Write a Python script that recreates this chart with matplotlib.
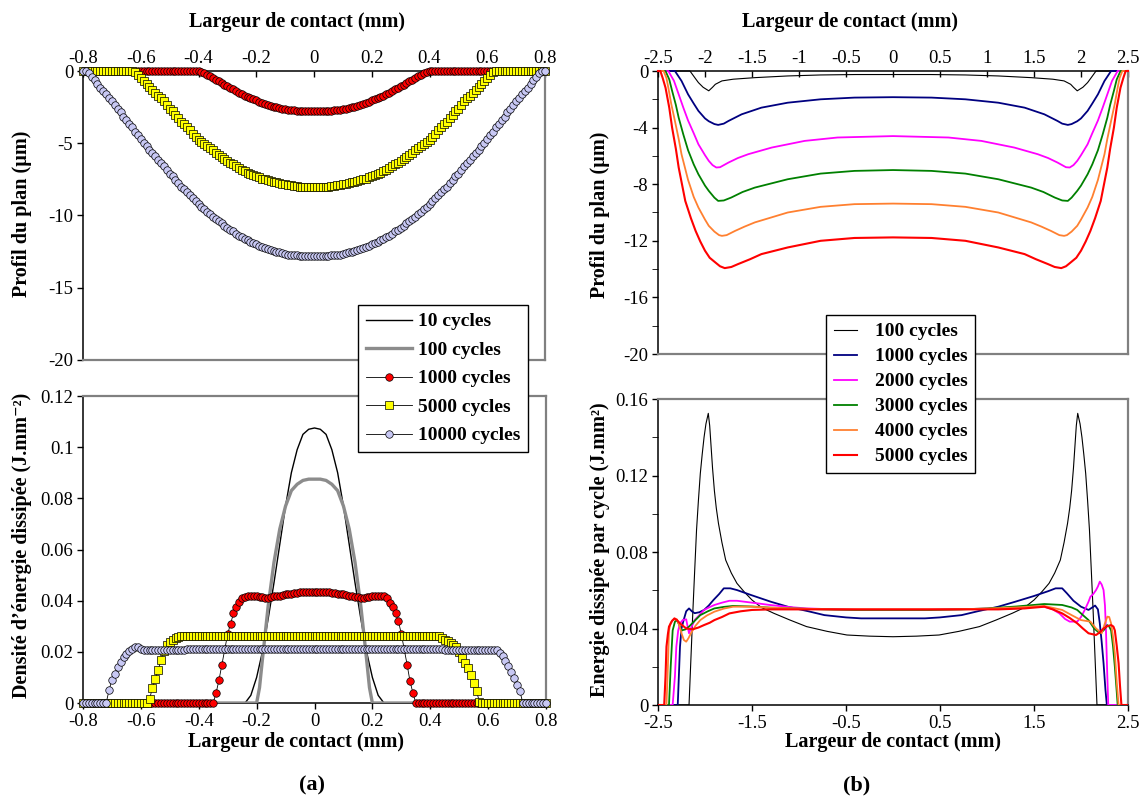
import numpy as np
import matplotlib
matplotlib.use("Agg")
import matplotlib.pyplot as plt

plt.rcParams['font.family'] = ['Liberation Serif', 'DejaVu Serif']
plt.rcParams['axes.unicode_minus'] = False
plt.rcParams['font.size'] = 13

# ---------------- (a) data ----------------
# contact width grid for the marker series, 0.01 mm step
x_a = np.round(np.arange(-80, 81) * 0.01, 2)

# wear profile (um)
prof_a_1000 = ([0.0] * 40 +
               [0, -0.05, -0.15, -0.25, -0.37, -0.48, -0.6, -0.72, -0.84, -0.95,
                -1.06, -1.17, -1.28, -1.39, -1.5, -1.6, -1.7, -1.78, -1.87, -1.96,
                -2.04, -2.12, -2.2, -2.27, -2.34, -2.4, -2.46, -2.51, -2.56, -2.6,
                -2.64, -2.67, -2.7, -2.72, -2.74, -2.75, -2.75, -2.75, -2.75, -2.75,
                -2.75,
                -2.75, -2.75, -2.75, -2.75, -2.75, -2.74, -2.72, -2.7, -2.67, -2.64,
                -2.6, -2.56, -2.51, -2.46, -2.4, -2.34, -2.27, -2.2, -2.12, -2.04,
                -1.96, -1.87, -1.78, -1.7, -1.6, -1.5, -1.39, -1.28, -1.17, -1.06,
                -0.95, -0.84, -0.72, -0.6, -0.48, -0.37, -0.25, -0.15, -0.05, 0] +
               [0.0] * 40)

prof_a_5000 = ([0.0] * 10 +
               [0, 0, 0, 0, 0, 0, 0, 0, -0.1, -0.3,
                -0.5, -0.7, -0.9, -1.1, -1.3, -1.5, -1.7, -1.9, -2.1, -2.35,
                -2.6, -2.8, -3.05, -3.25, -3.5, -3.7, -3.9, -4.1, -4.35, -4.55,
                -4.75, -4.9, -5.05, -5.2, -5.35, -5.5, -5.65, -5.8, -5.95, -6.1,
                -6.2, -6.35, -6.45, -6.6, -6.7, -6.85, -6.95, -7.05, -7.15, -7.2,
                -7.3, -7.35, -7.45, -7.5, -7.55, -7.6, -7.65, -7.7, -7.75, -7.8,
                -7.85, -7.9, -7.92, -7.95, -7.97, -8.0, -8.0, -8.0, -8.0, -8.0,
                -8.0,
                -8.0, -8.0, -8.0, -8.0, -8.0, -7.97, -7.95, -7.92, -7.9, -7.85,
                -7.8, -7.75, -7.7, -7.65, -7.6, -7.55, -7.5, -7.45, -7.35, -7.3,
                -7.2, -7.15, -7.05, -6.95, -6.85, -6.7, -6.6, -6.45, -6.35, -6.2,
                -6.1, -5.95, -5.8, -5.65, -5.5, -5.35, -5.2, -5.05, -4.9, -4.75,
                -4.55, -4.35, -4.1, -3.9, -3.7, -3.5, -3.25, -3.05, -2.8, -2.6,
                -2.35, -2.1, -1.9, -1.7, -1.5, -1.3, -1.1, -0.9, -0.7, -0.5,
                -0.3, -0.1, 0, 0, 0, 0, 0, 0, 0, 0] +
               [0.0] * 10)

prof_a_10000 = [0, 0, -0.15, -0.4, -0.65, -0.9, -1.15, -1.4, -1.6, -1.85,
                -2.1, -2.35, -2.6, -2.85, -3.15, -3.4, -3.65, -3.9, -4.2, -4.45,
                -4.7, -4.95, -5.2, -5.45, -5.7, -5.9, -6.15, -6.4, -6.6, -6.85,
                -7.1, -7.3, -7.55, -7.75, -8.0, -8.2, -8.4, -8.6, -8.8, -9.0,
                -9.2, -9.4, -9.55, -9.75, -9.9, -10.1, -10.25, -10.4, -10.55, -10.7,
                -10.85, -11.0, -11.1, -11.25, -11.4, -11.5, -11.6, -11.7, -11.8, -11.9,
                -12.0, -12.1, -12.15, -12.25, -12.3, -12.4, -12.45, -12.5, -12.55, -12.6,
                -12.65, -12.7, -12.72, -12.74, -12.76, -12.78, -12.79, -12.8, -12.8, -12.8,
                -12.8,
                -12.8, -12.8, -12.8, -12.79, -12.78, -12.76, -12.74, -12.72, -12.7, -12.65,
                -12.6, -12.55, -12.5, -12.45, -12.4, -12.3, -12.25, -12.15, -12.1, -12.0,
                -11.9, -11.8, -11.7, -11.6, -11.5, -11.4, -11.25, -11.1, -11.0, -10.85,
                -10.7, -10.55, -10.4, -10.25, -10.1, -9.9, -9.75, -9.55, -9.4, -9.2,
                -9.0, -8.8, -8.6, -8.4, -8.2, -8.0, -7.75, -7.55, -7.3, -7.1,
                -6.85, -6.6, -6.4, -6.15, -5.9, -5.7, -5.45, -5.2, -4.95, -4.7,
                -4.45, -4.2, -3.9, -3.65, -3.4, -3.15, -2.85, -2.6, -2.35, -2.1,
                -1.85, -1.6, -1.4, -1.15, -0.9, -0.65, -0.4, -0.15, 0, 0]

# dissipated energy density (J.mm-2)
x_a_10 = [-0.8, -0.24, -0.22, -0.2, -0.18, -0.16, -0.14, -0.12, -0.1, -0.08, -0.06, -0.04, -0.02,
          0, 0.02, 0.04, 0.06, 0.08, 0.1, 0.12, 0.14, 0.16, 0.18, 0.2, 0.22, 0.24, 0.8]
dens_a_10 = [0, 0, 0.003, 0.01, 0.02, 0.033, 0.047, 0.062, 0.077, 0.09, 0.099, 0.105, 0.107,
             0.1075, 0.107, 0.105, 0.099, 0.09, 0.077, 0.062, 0.047, 0.033, 0.02, 0.01, 0.003, 0, 0]

x_a_100 = [-0.8, -0.2, -0.19, -0.18, -0.16, -0.14, -0.12, -0.1, -0.08, -0.06, -0.04, -0.02,
           0, 0.02, 0.04, 0.06, 0.08, 0.1, 0.12, 0.14, 0.16, 0.18, 0.19, 0.2, 0.8]
dens_a_100 = [0, 0, 0.006, 0.017, 0.038, 0.055, 0.068, 0.077, 0.083, 0.0855, 0.087, 0.0875,
              0.0875, 0.0875, 0.087, 0.0855, 0.083, 0.077, 0.068, 0.055, 0.038, 0.017, 0.006, 0, 0]

dens_a_1000 = ([0.0] * 46 +
               [0.004, 0.009, 0.015, 0.021,
                0.027, 0.031, 0.035, 0.0375, 0.0395, 0.041, 0.0416, 0.042, 0.042, 0.042,
                0.0418, 0.0416, 0.0413, 0.041, 0.0412, 0.0415, 0.0418, 0.042, 0.042, 0.0422,
                0.0425, 0.0427, 0.0428, 0.043, 0.0431, 0.0432, 0.0432, 0.0432, 0.0432, 0.0432,
                0.0432,
                0.0432, 0.0432, 0.0432, 0.0432, 0.0432, 0.0431, 0.043, 0.0428, 0.0427, 0.0425,
                0.0422, 0.042, 0.0418, 0.0416, 0.0413, 0.041, 0.041, 0.0413, 0.0416, 0.0418,
                0.042, 0.042, 0.042, 0.0418, 0.041, 0.039, 0.0375, 0.035, 0.032, 0.027,
                0.021, 0.015, 0.0085, 0.004] +
               [0.0] * 46)

dens_a_5000 = ([0.0] * 23 +
               [0.0015, 0.006, 0.0095, 0.013, 0.017, 0.0205, 0.0225,
                0.0238, 0.0247, 0.0254, 0.0258, 0.0261, 0.0263, 0.0263, 0.0263, 0.0263, 0.0263] +
               [0.0263] * 40 + [0.0263] + [0.0263] * 42 +
               [0.026, 0.0255,
                0.0248, 0.0242, 0.0235, 0.0228, 0.022, 0.02,
                0.0175, 0.0158, 0.0138, 0.011, 0.008, 0.0045, 0.0005] +
               [0.0] * 23)

dens_a_10000 = ([0.0] * 9 +
                [0.005, 0.009, 0.0115, 0.014, 0.0162, 0.018, 0.0193, 0.0204, 0.0212, 0.0218, 0.0218,
                 0.0212, 0.0209] + [0.0208] * 14 + [0.0213] * 44 + [0.0213] +
                [0.0213] * 44 + [0.0208] * 18 +
                [0.0206, 0.0196, 0.0182, 0.0163, 0.0143, 0.0122, 0.0098, 0.0072, 0.0045] +
                [0.0] * 9)

# ---------------- (b) data ----------------
x_b_p100 = [-2.5, -2.16, -2.1, -2.07, -2.02, -1.96, -1.92, -1.89, -1.82, -1.7, -1.47, -1.12, -0.77, -0.4,
            0, 0.4, 0.77, 1.12, 1.47, 1.7, 1.82, 1.89, 1.92, 1.96, 2.02, 2.07, 2.1, 2.16, 2.5]
prof_b_100 = [0, 0, -0.55, -0.82, -1.15, -1.4, -1.15, -0.94, -0.7, -0.58, -0.47, -0.35, -0.28, -0.25,
              -0.25, -0.25, -0.28, -0.35, -0.47, -0.58, -0.7, -0.94, -1.15, -1.4, -1.15, -0.82, -0.55, 0, 0]

x_b_p1000 = [-2.5, -2.32, -2.25, -2.18, -2.12, -2.07, -2.0, -1.96, -1.9, -1.86, -1.8, -1.75, -1.61, -1.4,
             -1.12, -0.77, -0.41, 0, 0.41, 0.77, 1.12, 1.4, 1.61, 1.75, 1.8, 1.86, 1.9, 1.96, 2.0, 2.07,
             2.12, 2.18, 2.25, 2.32, 2.5]
prof_b_1000 = [0, 0, -0.7, -1.65, -2.3, -2.82, -3.35, -3.55, -3.75, -3.81, -3.72, -3.53, -3.06, -2.59,
               -2.24, -2.0, -1.88, -1.85, -1.88, -2.0, -2.24, -2.59, -3.06, -3.53, -3.72, -3.81, -3.75,
               -3.55, -3.35, -2.82, -2.3, -1.65, -0.7, 0, 0]

x_b_p2000 = [-2.5, -2.39, -2.33, -2.28, -2.23, -2.18, -2.12, -2.07, -2.0, -1.96, -1.92, -1.88, -1.84,
             -1.75, -1.65, -1.54, -1.29, -0.94, -0.59, 0, 0.59, 0.94, 1.29, 1.54, 1.65, 1.75, 1.84,
             1.88, 1.92, 1.96, 2.0, 2.07, 2.12, 2.18, 2.23, 2.28, 2.33, 2.39, 2.5]
prof_b_2000 = [0, 0, -0.7, -1.65, -2.6, -3.5, -4.4, -5.18, -5.95, -6.35, -6.65, -6.82, -6.8, -6.47,
               -6.15, -5.88, -5.41, -4.94, -4.7, -4.6, -4.7, -4.94, -5.41, -5.88, -6.15, -6.47, -6.8,
               -6.82, -6.65, -6.35, -5.95, -5.18, -4.4, -3.5, -2.6, -1.65, -0.7, 0, 0]

x_b_p3000 = [-2.5, -2.42, -2.38, -2.35, -2.31, -2.28, -2.23, -2.18, -2.12, -2.07, -2.0, -1.96, -1.9,
             -1.86, -1.8, -1.72, -1.6, -1.47, -1.12, -0.77, -0.41, 0, 0.41, 0.77, 1.12, 1.47, 1.6,
             1.72, 1.8, 1.86, 1.9, 1.96, 2.0, 2.07, 2.12, 2.18, 2.23, 2.28, 2.31, 2.35, 2.38, 2.42, 2.5]
prof_b_3000 = [0, 0, -0.6, -1.4, -2.4, -3.3, -4.5, -5.6, -6.6, -7.3, -8.1, -8.47, -8.95, -9.18, -9.15,
               -8.94, -8.55, -8.24, -7.65, -7.25, -7.06, -7.0, -7.06, -7.25, -7.65, -8.24, -8.55, -8.94,
               -9.15, -9.18, -8.95, -8.47, -8.1, -7.3, -6.6, -5.6, -4.5, -3.3, -2.4, -1.4, -0.6, 0, 0]

x_b_p4000 = [-2.5, -2.44, -2.41, -2.39, -2.36, -2.32, -2.28, -2.25, -2.18, -2.12, -2.07, -2.0, -1.96,
             -1.9, -1.85, -1.82, -1.77, -1.68, -1.58, -1.47, -1.12, -0.77, -0.41, 0,
             0.41, 0.77, 1.12, 1.47, 1.58, 1.68, 1.77, 1.82, 1.85, 1.9, 1.96, 2.0, 2.07, 2.12, 2.18,
             2.25, 2.28, 2.32, 2.36, 2.39, 2.41, 2.44, 2.5]
prof_b_4000 = [0, 0, -0.5, -1.18, -2.3, -3.53, -4.8, -5.88, -7.7, -8.9, -9.65, -10.5, -10.94, -11.35,
               -11.6, -11.65, -11.6, -11.3, -11.0, -10.7, -10.0, -9.6, -9.41, -9.37,
               -9.41, -9.6, -10.0, -10.7, -11.0, -11.3, -11.6, -11.65, -11.6, -11.35, -10.94, -10.5,
               -9.65, -8.9, -7.7, -5.88, -4.8, -3.53, -2.3, -1.18, -0.5, 0, 0]

x_b_p5000 = [-2.5, -2.475, -2.45, -2.42, -2.38, -2.35, -2.31, -2.28, -2.21, -2.15, -2.1, -2.05, -2.0,
             -1.95, -1.89, -1.84, -1.79, -1.72, -1.65, -1.52, -1.4, -1.12, -0.77, -0.41, 0,
             0.41, 0.77, 1.12, 1.4, 1.52, 1.65, 1.72, 1.79, 1.84, 1.89, 1.95, 2.0, 2.05, 2.1, 2.15,
             2.21, 2.28, 2.31, 2.35, 2.38, 2.42, 2.45, 2.475, 2.5]
prof_b_5000 = [0, 0, -0.5, -1.18, -2.6, -4.0, -5.5, -6.82, -9.18, -10.4, -11.3, -12.05, -12.7, -13.2,
               -13.53, -13.8, -13.93, -13.85, -13.65, -13.3, -12.94, -12.47, -12.0, -11.8, -11.76,
               -11.8, -12.0, -12.47, -12.94, -13.3, -13.65, -13.85, -13.93, -13.8, -13.53, -13.2,
               -12.7, -12.05, -11.3, -10.4, -9.18, -6.82, -5.5, -4.0, -2.6, -1.18, -0.5, 0, 0]

# dissipated energy per cycle (J.mm2)
x_b_e100 = [-2.5, -2.17, -2.15, -2.13, -2.11, -2.09, -2.07, -2.05, -2.03, -2.01, -1.99, -1.965, -1.95,
            -1.935, -1.92, -1.9, -1.88, -1.857, -1.82, -1.78, -1.72, -1.66, -1.58, -1.5, -1.4, -1.27,
            -1.1, -0.92, -0.7, -0.49, -0.25, 0,
            0.25, 0.49, 0.7, 0.92, 1.1, 1.27, 1.4, 1.5, 1.58, 1.66, 1.72, 1.78, 1.82, 1.857, 1.88,
            1.9, 1.92, 1.935, 1.95, 1.965, 1.99, 2.01, 2.03, 2.05, 2.07, 2.09, 2.11, 2.13, 2.15,
            2.17, 2.5]
en_b_100 = [0, 0, 0.024, 0.048, 0.07, 0.0915, 0.107, 0.121, 0.131, 0.14, 0.147, 0.1525, 0.146, 0.135,
            0.124, 0.112, 0.103, 0.095, 0.085, 0.0758, 0.069, 0.0636, 0.059, 0.0549, 0.051, 0.048,
            0.0445, 0.041, 0.0385, 0.0366, 0.036, 0.0357,
            0.036, 0.0366, 0.0385, 0.041, 0.0445, 0.048, 0.051, 0.0549, 0.059, 0.0636, 0.069, 0.0758,
            0.085, 0.095, 0.103, 0.112, 0.124, 0.135, 0.146, 0.1525, 0.147, 0.14, 0.131, 0.121,
            0.107, 0.0915, 0.07, 0.048, 0.024, 0, 0]

x_b_e1000 = [-2.5, -2.29, -2.266, -2.25, -2.227, -2.2, -2.17, -2.14, -2.11, -2.06, -2.01, -1.96, -1.91,
             -1.85, -1.8, -1.73, -1.66, -1.51, -1.3, -1.12, -0.9, -0.73, -0.5, -0.34, 0,
             0.34, 0.5, 0.73, 0.9, 1.12, 1.3, 1.5, 1.65, 1.73, 1.8, 1.85, 1.92, 2.0, 2.08, 2.12, 2.15,
             2.18, 2.2, 2.22, 2.24, 2.26, 2.275, 2.5]
en_b_1000 = [0, 0, 0.0305, 0.04, 0.0444, 0.049, 0.0505, 0.049, 0.048, 0.0485, 0.0497, 0.052, 0.0549,
             0.058, 0.061, 0.061, 0.0601, 0.0575, 0.054, 0.0514, 0.049, 0.047, 0.0458, 0.0453, 0.0453,
             0.0453, 0.0458, 0.047, 0.049, 0.0514, 0.054, 0.057, 0.0595, 0.061, 0.061, 0.0584, 0.0545,
             0.0514, 0.0497, 0.051, 0.052, 0.05, 0.0427, 0.033, 0.0218, 0.008, 0, 0]

x_b_e2000 = [-2.5, -2.344, -2.32, -2.305, -2.285, -2.266, -2.235, -2.2, -2.185, -2.17, -2.15, -2.11,
             -2.06, -2.01, -1.95, -1.9, -1.82, -1.74, -1.66, -1.58, -1.45, -1.31, -1.1, -0.92, -0.6,
             -0.34, 0,
             0.34, 0.6, 0.92, 1.3, 1.5, 1.61, 1.7, 1.77, 1.83, 1.88, 1.96, 2.0, 2.04, 2.08, 2.1, 2.13,
             2.16, 2.18, 2.2, 2.22, 2.24, 2.255, 2.265, 2.28, 2.29, 2.5]
en_b_2000 = [0, 0, 0.015, 0.0305, 0.039, 0.0427, 0.0445, 0.0448, 0.041, 0.0375, 0.04, 0.0444, 0.047,
             0.0497, 0.0512, 0.0523, 0.0535, 0.0545, 0.0545, 0.054, 0.0532, 0.0523, 0.0512, 0.0505,
             0.05, 0.0497, 0.0497,
             0.0497, 0.05, 0.0503, 0.051, 0.0514, 0.0514, 0.05, 0.0479, 0.045, 0.0436, 0.0436, 0.046,
             0.0497, 0.054, 0.0566, 0.058, 0.0601, 0.062, 0.0645, 0.063, 0.0601, 0.052, 0.04, 0.015,
             0, 0]

x_b_e3000 = [-2.5, -2.383, -2.365, -2.344, -2.32, -2.3, -2.275, -2.25, -2.21, -2.17, -2.11, -2.05,
             -1.97, -1.9, -1.8, -1.7, -1.5, -1.31, -1.0, -0.73, -0.4, 0,
             0.4, 0.73, 1.0, 1.31, 1.61, 1.8, 1.9, 1.96, 2.02, 2.08, 2.14, 2.2, 2.24, 2.28, 2.3, 2.32,
             2.34, 2.36, 2.38, 2.39, 2.5]
en_b_3000 = [0, 0, 0.02, 0.039, 0.0435, 0.0444, 0.042, 0.039, 0.0395, 0.041, 0.044, 0.047, 0.049,
             0.0505, 0.0513, 0.0518, 0.0515, 0.0509, 0.0504, 0.05, 0.0497, 0.0497,
             0.0497, 0.05, 0.0505, 0.0515, 0.0528, 0.0523, 0.051, 0.0497, 0.047, 0.0444, 0.04, 0.0375,
             0.039, 0.0418, 0.041, 0.039, 0.031, 0.02, 0.007, 0, 0]

x_b_e4000 = [-2.5, -2.41, -2.395, -2.383, -2.365, -2.344, -2.32, -2.3, -2.275, -2.25, -2.225, -2.2,
             -2.175, -2.15, -2.1, -2.05, -1.98, -1.9, -1.8, -1.7, -1.5, -1.31, -1.0, -0.6, 0,
             0.6, 1.0, 1.31, 1.61, 1.8, 1.9, 2.0, 2.1, 2.16, 2.22, 2.25, 2.28, 2.3, 2.32, 2.34, 2.36,
             2.38, 2.4, 2.5]
en_b_4000 = [0, 0, 0.02, 0.039, 0.043, 0.0444, 0.0448, 0.0448, 0.042, 0.0375, 0.034, 0.0331, 0.035,
             0.0375, 0.0415, 0.0444, 0.0468, 0.0488, 0.0504, 0.0514, 0.0514, 0.0509, 0.0504, 0.05, 0.05,
             0.05, 0.0504, 0.051, 0.0518, 0.0497, 0.047, 0.0444, 0.0436, 0.04, 0.0375, 0.042, 0.0462,
             0.046, 0.0427, 0.036, 0.027, 0.012, 0, 0]

x_b_e5000 = [-2.5, -2.434, -2.42, -2.41, -2.395, -2.383, -2.35, -2.325, -2.3, -2.266, -2.2, -2.13,
             -2.07, -2.01, -1.95, -1.9, -1.82, -1.74, -1.62, -1.5, -1.3, -1.12, -0.6, 0,
             0.6, 1.12, 1.4, 1.61, 1.7, 1.8, 1.88, 1.96, 2.02, 2.08, 2.16, 2.2, 2.24, 2.28, 2.32, 2.345,
             2.36, 2.38, 2.4, 2.415, 2.43, 2.5]
en_b_5000 = [0, 0, 0.015, 0.0305, 0.037, 0.041, 0.044, 0.0453, 0.0445, 0.0427, 0.04, 0.0396, 0.0405,
             0.0418, 0.043, 0.0444, 0.046, 0.0479, 0.049, 0.0497, 0.05, 0.05, 0.05, 0.05,
             0.05, 0.05, 0.0505, 0.0514, 0.05, 0.0479, 0.0455, 0.0427, 0.04, 0.0375, 0.0366, 0.038, 0.04,
             0.0412, 0.0418, 0.041, 0.039, 0.031, 0.0218, 0.01, 0, 0]

# tick labels
xt_a = [-0.8, -0.6, -0.4, -0.2, 0, 0.2, 0.4, 0.6, 0.8]
xt_a_lbl = ['-0.8', '-0.6', '-0.4', '-0.2', '0', '0.2', '0.4', '0.6', '0.8']
yt_a_prof = [0, -5, -10, -15, -20]
yt_a_dens = [0, 0.02, 0.04, 0.06, 0.08, 0.1, 0.12]
yt_a_dens_lbl = ['0', '0.02', '0.04', '0.06', '0.08', '0.1', '0.12']
xt_b_top = [-2.5, -2, -1.5, -1, -0.5, 0, 0.5, 1, 1.5, 2, 2.5]
xt_b_top_lbl = ['-2.5', '-2', '-1.5', '-1', '-0.5', '0', '0.5', '1', '1.5', '2', '2.5']
xt_b_bot = [-2.5, -1.5, -0.5, 0.5, 1.5, 2.5]
xt_b_bot_lbl = ['-2.5', '-1.5', '-0.5', '0.5', '1.5', '2.5']
yt_b_prof = [0, -4, -8, -12, -16, -20]
yt_b_en = [0, 0.04, 0.08, 0.12, 0.16]
yt_b_en_lbl = ['0', '0.04', '0.08', '0.12', '0.16']

W, H = 1144, 805
fig = plt.figure(figsize=(W / 100, H / 100), dpi=100)


def box(l, t, r, b):
    return [l / W, 1 - b / H, (r - l) / W, (b - t) / H]


def spines(ax, black, gray):
    for s in black:
        ax.spines[s].set_color('black')
        ax.spines[s].set_linewidth(1.1)
    for s in gray:
        ax.spines[s].set_color('#808080')
        ax.spines[s].set_linewidth(1.6)


# ---- (a) top: wear profile
ax1 = fig.add_axes(box(83, 71, 545, 360))
ax1.set_xlim(-0.8, 0.8)
ax1.set_ylim(-20, 0)
spines(ax1, ['top', 'left'], ['right', 'bottom'])
ax1.xaxis.tick_top()
ax1.set_xticks(xt_a)
ax1.set_xticklabels(xt_a_lbl)
ax1.set_yticks(yt_a_prof)
ax1.set_yticklabels([str(v) for v in yt_a_prof])
ax1.tick_params(axis='x', direction='in', length=4, pad=3)
ax1.tick_params(axis='y', direction='out', length=4, pad=3)

mk = dict(color='black', lw=0.6, mec='black', mew=0.5, ms=5.4, clip_on=False, zorder=3)
ax1.plot(x_a, prof_a_1000, marker='o', mfc='#FF0000', **mk)
ax1.plot(x_a, prof_a_5000, marker='s', mfc='#FFFF00', **mk)
ax1.plot(x_a, prof_a_10000, marker='o', mfc='#C8C8F4', **mk)

# ---- (a) bottom: energy density
ax2 = fig.add_axes(box(83, 396, 546, 703))
ax2.set_xlim(-0.8, 0.8)
ax2.set_ylim(0, 0.12)
spines(ax2, ['bottom', 'left'], ['top', 'right'])
ax2.set_xticks(xt_a)
ax2.set_xticklabels(xt_a_lbl)
ax2.set_yticks(yt_a_dens)
ax2.set_yticklabels(yt_a_dens_lbl)
ax2.tick_params(direction='out', length=4, pad=3)

l10, = ax2.plot(x_a_10, dens_a_10, color='black', lw=1.0, zorder=3)
l100, = ax2.plot(x_a_100, dens_a_100, color='#8C8C8C', lw=2.4, zorder=3)
m1000, = ax2.plot(x_a, dens_a_1000, marker='o', mfc='#FF0000', **mk)
m5000, = ax2.plot(x_a, dens_a_5000, marker='s', mfc='#FFFF00', **mk)
m10000, = ax2.plot(x_a, dens_a_10000, marker='o', mfc='#C8C8F4', **mk)

# ---- (b) top: wear profile
ax3 = fig.add_axes(box(658, 71, 1128, 354))
ax3.set_xlim(-2.5, 2.5)
ax3.set_ylim(-20, 0)
spines(ax3, ['top', 'left'], ['right', 'bottom'])
ax3.xaxis.tick_top()
ax3.set_xticks(xt_b_top)
ax3.set_xticklabels(xt_b_top_lbl)
ax3.set_yticks(yt_b_prof)
ax3.set_yticklabels([str(v) for v in yt_b_prof])
ax3.set_yticks(np.arange(-20, 1, 2), minor=True)
ax3.tick_params(axis='x', direction='in', length=4, pad=3)
ax3.tick_params(axis='y', which='both', direction='out', length=4, pad=3)

cols_b = ['black', '#000080', '#FF00FF', '#008000', '#FF8030', '#FF0000']
lws_b = [0.8, 1.3, 1.3, 1.3, 1.3, 1.5]
prof_b = [(x_b_p100, prof_b_100), (x_b_p1000, prof_b_1000), (x_b_p2000, prof_b_2000),
          (x_b_p3000, prof_b_3000), (x_b_p4000, prof_b_4000), (x_b_p5000, prof_b_5000)]
for (xx, yy), c, w in zip(prof_b, cols_b, lws_b):
    ax3.plot(xx, yy, color=c, lw=w, clip_on=False, zorder=3)

# ---- (b) bottom: energy per cycle
ax4 = fig.add_axes(box(658, 399, 1128, 705))
ax4.set_xlim(-2.5, 2.5)
ax4.set_ylim(0, 0.16)
spines(ax4, ['bottom', 'left'], ['top', 'right'])
ax4.set_xticks(xt_b_bot)
ax4.set_xticklabels(xt_b_bot_lbl)
ax4.set_yticks(yt_b_en)
ax4.set_yticklabels(yt_b_en_lbl)
ax4.set_yticks(np.arange(0, 0.161, 0.02), minor=True)
ax4.tick_params(which='both', direction='out', length=4, pad=3)

en_b = [(x_b_e100, en_b_100), (x_b_e1000, en_b_1000), (x_b_e2000, en_b_2000),
        (x_b_e3000, en_b_3000), (x_b_e4000, en_b_4000), (x_b_e5000, en_b_5000)]
hb = []
for (xx, yy), c, w in zip(en_b, cols_b, lws_b):
    ln, = ax4.plot(xx, yy, color=c, lw=w, zorder=3)
    hb.append(ln)

for ax in (ax1, ax2, ax3, ax4):
    ax.tick_params(labelsize=13.5, width=1)

# ---- axis titles
bold = dict(fontweight='bold', fontsize=14.5)
fig.text(297 / W, 1 - 22 / H, 'Largeur de contact (mm)', ha='center', va='center', **bold)
fig.text(296 / W, 1 - 742 / H, 'Largeur de contact (mm)', ha='center', va='center', **bold)
fig.text(850 / W, 1 - 22 / H, 'Largeur de contact (mm)', ha='center', va='center', **bold)
fig.text(893 / W, 1 - 742 / H, 'Largeur de contact (mm)', ha='center', va='center', **bold)
fig.text(22 / W, 1 - 214 / H, 'Profil du plan (µm)', rotation=90, ha='center', va='center', **bold)
fig.text(22 / W, 1 - 545 / H, 'Densité d\u2019énergie dissipée (J.mm\u207b\u00b2)', rotation=90,
         ha='center', va='center', **bold)
fig.text(600 / W, 1 - 215 / H, 'Profil du plan (µm)', rotation=90, ha='center', va='center', **bold)
fig.text(600 / W, 1 - 550 / H, 'Energie dissipée par cycle (J.mm\u00b2)', rotation=90,
         ha='center', va='center', **bold)
fig.text(312 / W, 1 - 785 / H, '(a)', ha='center', va='center', fontweight='bold', fontsize=16)
fig.text(857 / W, 1 - 785 / H, '(b)', ha='center', va='center', fontweight='bold', fontsize=16)

# ---- legends
leg_a = fig.legend([l10, l100, m1000, m5000, m10000],
                   ['10 cycles', '100 cycles', '1000 cycles', '5000 cycles', '10000 cycles'],
                   loc='upper left', bbox_to_anchor=(358 / W, 1 - 305 / H),
                   fancybox=False, framealpha=1, edgecolor='black',
                   prop={'weight': 'bold', 'size': 14}, handlelength=2.4, handletextpad=0.3,
                   labelspacing=0.56, borderpad=0.4, borderaxespad=0)
leg_a.get_frame().set_linewidth(1.0)

leg_b = fig.legend(hb, ['100 cycles', '1000 cycles', '2000 cycles', '3000 cycles', '4000 cycles',
                        '5000 cycles'],
                   loc='upper left', bbox_to_anchor=(826 / W, 1 - 315 / H),
                   fancybox=False, framealpha=1, edgecolor='black',
                   prop={'weight': 'bold', 'size': 14}, handlelength=1.2, handletextpad=0.9,
                   labelspacing=0.38, borderpad=0.4, borderaxespad=0)
leg_b.get_frame().set_linewidth(1.0)

fig.savefig('out.png', dpi=100)
